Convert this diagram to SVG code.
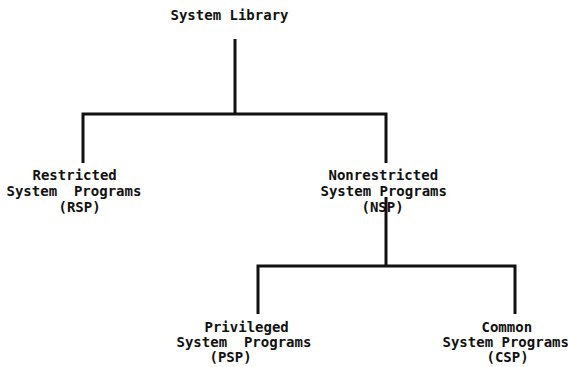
<svg xmlns="http://www.w3.org/2000/svg" width="568" height="367" viewBox="0 0 568 367">
  <style>
    text { font-family: "DejaVu Sans Mono", "Liberation Mono", monospace; font-size: 14px; font-weight: bold; fill: #111; white-space: pre; }
    .wire { fill: none; stroke: #111; stroke-width: 3; stroke-linejoin: miter; stroke-linecap: butt; }
  </style>
  <rect width="568" height="367" fill="#fff"/>

  <g id="connectors">
    <!-- System Library to its two branches -->
    <path class="wire" d="M235 39 V114"/>
    <path class="wire" d="M83 163 V114 H386 V163"/>
    <!-- Nonrestricted programs to their two branches -->
    <path class="wire" d="M386 197 V266"/>
    <path class="wire" d="M258 314 V266 H515 V314"/>
  </g>

  <g id="system-library">
    <text x="170.5" y="20">System Library</text>
  </g>

  <g id="rsp">
    <text x="32.5" y="180">Restricted</text>
    <text x="6.5" y="196" xml:space="preserve">System  Programs</text>
    <text x="58.5" y="212">(RSP)</text>
  </g>

  <g id="nsp">
    <text x="328.5" y="180">Nonrestricted</text>
    <text x="320.5" y="196">System Programs</text>
    <text x="361.5" y="212">(NSP)</text>
  </g>

  <g id="psp">
    <text x="204.5" y="332">Privileged</text>
    <text x="176.5" y="347" xml:space="preserve">System  Programs</text>
    <text x="209.5" y="362">(PSP)</text>
  </g>

  <g id="csp">
    <text x="481.5" y="332">Common</text>
    <text x="442.5" y="347">System Programs</text>
    <text x="486.5" y="362">(CSP)</text>
  </g>
</svg>
